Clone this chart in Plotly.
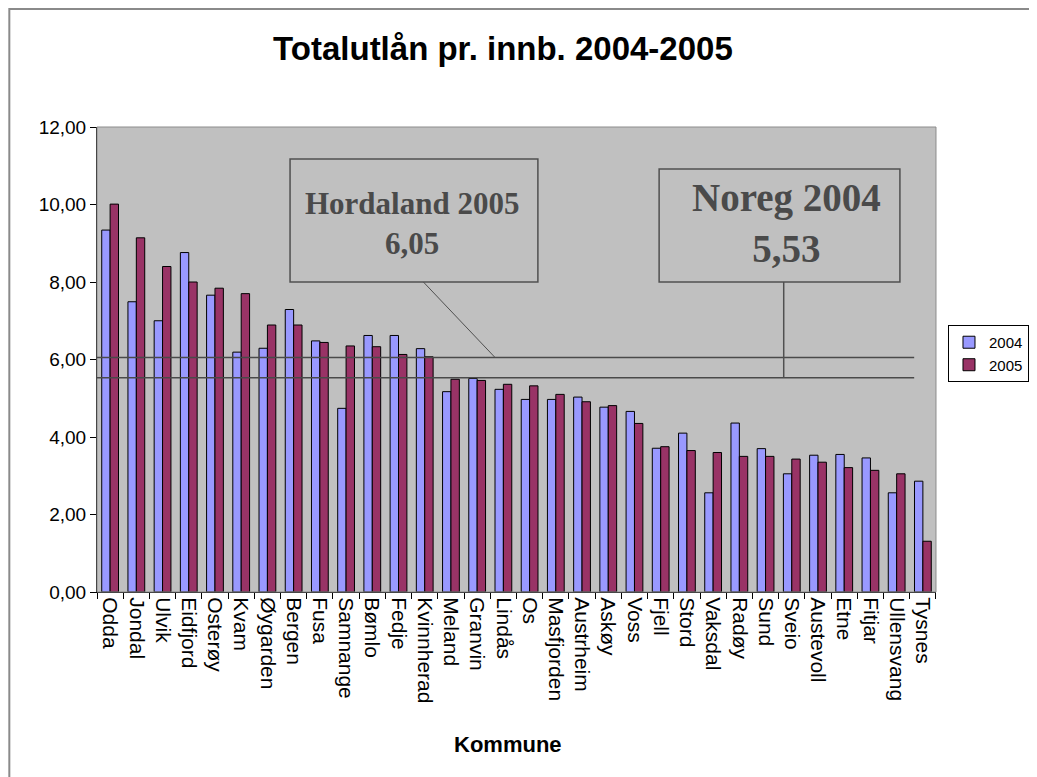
import plotly.graph_objects as go

kommuner = ["Odda", "Jondal", "Ulvik", "Eidfjord", "Osterøy", "Kvam", "Øygarden", "Bergen",
            "Fusa", "Samnange", "Bømlo", "Fedje", "Kvinnherad", "Meland", "Granvin", "Lindås",
            "Os", "Masfjorden", "Austrheim", "Askøy", "Voss", "Fjell", "Stord", "Vaksdal",
            "Radøy", "Sund", "Sveio", "Austevoll", "Etne", "Fitjar", "Ullensvang", "Tysnes"]
v2004 = [9.34, 7.49, 7.00, 8.76, 7.66, 6.19, 6.29, 7.29, 6.48, 4.74, 6.62, 6.62, 6.28, 5.17,
         5.51, 5.23, 4.97, 4.97, 5.03, 4.77, 4.66, 3.71, 4.10, 2.56, 4.36, 3.70, 3.05, 3.53,
         3.55, 3.46, 2.56, 2.86]
v2005 = [10.01, 9.14, 8.40, 8.00, 7.84, 7.70, 6.89, 6.89, 6.44, 6.35, 6.33, 6.13, 6.07, 5.49,
         5.46, 5.36, 5.32, 5.10, 4.91, 4.81, 4.35, 3.75, 3.65, 3.60, 3.50, 3.50, 3.43, 3.35,
         3.21, 3.14, 3.05, 1.31]
hordaland_2005 = 6.05
noreg_2004 = 5.53
y_max = 12
y_ticks = [0, 2, 4, 6, 8, 10, 12]

fig = go.Figure()
fig.add_trace(go.Bar(x=kommuner, y=v2004, name="2004",
                     marker=dict(color="#9999FF", line=dict(color="#000000", width=1))))
fig.add_trace(go.Bar(x=kommuner, y=v2005, name="2005",
                     marker=dict(color="#993366", line=dict(color="#000000", width=1))))

box_bottom = 0.6667
shapes = [
    # outer chart border (left and top)
    dict(type="rect", xref="paper", yref="paper", x0=-0.1045, x1=1.3, y0=-0.6, y1=1.2538,
         line=dict(color="#8a8a8a", width=2), fillcolor="rgba(0,0,0,0)", layer="below"),
    # plot area border
    dict(type="rect", xref="paper", yref="paper", x0=0, x1=1, y0=0, y1=1,
         line=dict(color="#8c8c8c", width=1), fillcolor="rgba(0,0,0,0)"),
    # reference lines
    dict(type="line", xref="paper", yref="y", x0=0, x1=0.974, y0=hordaland_2005, y1=hordaland_2005,
         line=dict(color="#4a4a4a", width=1.5)),
    dict(type="line", xref="paper", yref="y", x0=0, x1=0.974, y0=noreg_2004, y1=noreg_2004,
         line=dict(color="#4a4a4a", width=1.5)),
    # annotation boxes
    dict(type="rect", xref="paper", yref="paper", x0=0.2301, x1=0.5255, y0=box_bottom, y1=0.9312,
         line=dict(color="#505050", width=1.5), fillcolor="rgba(0,0,0,0)"),
    dict(type="rect", xref="paper", yref="paper", x0=0.670, x1=0.957, y0=box_bottom, y1=0.9097,
         line=dict(color="#505050", width=1.5), fillcolor="rgba(0,0,0,0)"),
    # connectors
    dict(type="line", xref="paper", yref="y", x0=0.389, x1=0.4745, y0=box_bottom * y_max,
         y1=hordaland_2005, line=dict(color="#505050", width=1)),
    dict(type="line", xref="paper", yref="y", x0=0.8185, x1=0.8185, y0=box_bottom * y_max,
         y1=noreg_2004, line=dict(color="#505050", width=1.5)),
]

annotations = [
    dict(text="<b>Hordaland 2005<br>6,05</b>", xref="paper", yref="paper", x=0.3749, y=0.7935,
         xanchor="center", yanchor="middle", showarrow=False,
         font=dict(family="Liberation Serif, Times New Roman, serif", size=31, color="#4a4a4a")),
    dict(text="<b>Noreg 2004<br>5,53</b>", xref="paper", yref="paper", x=0.822, y=0.7935,
         xanchor="center", yanchor="middle", showarrow=False,
         font=dict(family="Liberation Serif, Times New Roman, serif", size=39, color="#4a4a4a")),
    dict(text="<b>Kommune</b>", xref="paper", yref="paper", x=0.49, y=-0.329,
         xanchor="center", yanchor="middle", showarrow=False,
         font=dict(family="Liberation Sans, Arial, sans-serif", size=22, color="#000000")),
]

fig.update_layout(
    width=1029, height=769,
    margin=dict(l=89, r=97, t=119, b=185),
    paper_bgcolor="#FFFFFF",
    plot_bgcolor="#C0C0C0",
    separators=", ",
    barmode="group",
    bargap=0.36,
    bargroupgap=0,
    font=dict(family="Liberation Sans, Arial, sans-serif", color="#000000"),
    title=dict(text="<b>Totalutlån pr. innb. 2004-2005</b>", xref="container", yref="container",
               x=0.481, y=0.948, xanchor="center", yanchor="middle",
               font=dict(size=33, family="Liberation Sans, Arial, sans-serif", color="#000000")),
    xaxis=dict(showgrid=False, showline=True, linecolor="#000000", linewidth=1,
               ticks="outside", tickson="boundaries", ticklen=6, tickcolor="#000000",
               tickangle=90, tickfont=dict(size=21), zeroline=False),
    yaxis=dict(range=[0, y_max], tickvals=y_ticks, tickformat=".2f", showgrid=False,
               showline=True, linecolor="#000000", linewidth=1, ticks="outside", ticklen=6,
               tickcolor="#000000", tickfont=dict(size=19), zeroline=False),
    legend=dict(xref="container", yref="container", x=0.9135, y=0.5878,
                xanchor="left", yanchor="top", bgcolor="#FFFFFF",
                bordercolor="#000000", borderwidth=1, font=dict(size=15), itemwidth=30,
                tracegroupgap=2),
    shapes=shapes,
    annotations=annotations,
)

fig.write_html("out.html")
